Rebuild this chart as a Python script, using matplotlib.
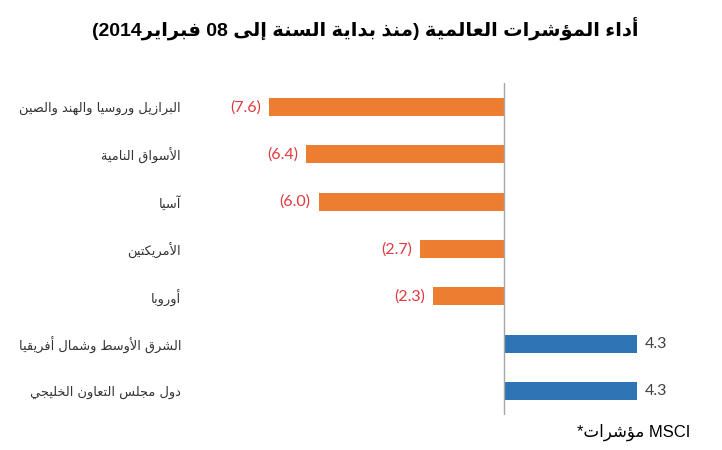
import re
import matplotlib
matplotlib.use("Agg")
import matplotlib.pyplot as plt
import matplotlib.transforms as mtransforms

# 데이터
categories = [
    "البرازيل وروسيا والهند والصين",
    "الأسواق النامية",
    "آسيا",
    "الأمريكتين",
    "أوروبا",
    "الشرق الأوسط وشمال أفريقيا",
    "دول مجلس التعاون الخليجي",
]
values = [-7.6, -6.4, -6.0, -2.7, -2.3, 4.3, 4.3]

title = "أداء المؤشرات العالمية (منذ بداية السنة إلى 08 فبراير2014)"
footnote = "MSCI مؤشرات*"

# 아랍어 글자 모양 (isolated 코드, 형태 수)
FORMS = {
    "\u0621": (0xFE80, 1), "\u0622": (0xFE81, 2), "\u0623": (0xFE83, 2),
    "\u0624": (0xFE85, 2), "\u0625": (0xFE87, 2), "\u0626": (0xFE89, 4),
    "\u0627": (0xFE8D, 2), "\u0628": (0xFE8F, 4), "\u0629": (0xFE93, 2),
    "\u062A": (0xFE95, 4), "\u062B": (0xFE99, 4), "\u062C": (0xFE9D, 4),
    "\u062D": (0xFEA1, 4), "\u062E": (0xFEA5, 4), "\u062F": (0xFEA9, 2),
    "\u0630": (0xFEAB, 2), "\u0631": (0xFEAD, 2), "\u0632": (0xFEAF, 2),
    "\u0633": (0xFEB1, 4), "\u0634": (0xFEB5, 4), "\u0635": (0xFEB9, 4),
    "\u0636": (0xFEBD, 4), "\u0637": (0xFEC1, 4), "\u0638": (0xFEC5, 4),
    "\u0639": (0xFEC9, 4), "\u063A": (0xFECD, 4), "\u0641": (0xFED1, 4),
    "\u0642": (0xFED5, 4), "\u0643": (0xFED9, 4), "\u0644": (0xFEDD, 4),
    "\u0645": (0xFEE1, 4), "\u0646": (0xFEE5, 4), "\u0647": (0xFEE9, 4),
    "\u0648": (0xFEED, 2), "\u0649": (0xFEEF, 2), "\u064A": (0xFEF1, 4),
}
LAM_ALEF = {"\u0622": 0xFEF5, "\u0623": 0xFEF7, "\u0625": 0xFEF9, "\u0627": 0xFEFB}
MIRROR = {"(": ")", ")": "("}


def shape(text):
    units = []
    i = 0
    while i < len(text):
        c = text[i]
        if c == "\u0644" and i + 1 < len(text) and text[i + 1] in LAM_ALEF:
            units.append((LAM_ALEF[text[i + 1]], 2, None))
            i += 2
            continue
        if c in FORMS:
            units.append((FORMS[c][0], FORMS[c][1], None))
        else:
            units.append((None, 0, c))
        i += 1

    out = []
    for k, (code, n, raw) in enumerate(units):
        if code is None:
            out.append(raw)
            continue
        jp = n >= 2 and k > 0 and units[k - 1][1] == 4
        jn = n == 4 and k + 1 < len(units) and units[k + 1][1] >= 2
        if n == 1:
            off = 0
        elif jp and jn:
            off = 3
        elif jn:
            off = 2
        elif jp:
            off = 1
        else:
            off = 0
        out.append(chr(code + off))
    return "".join(out)


def visual(text):
    # 간단한 RTL 순서 뒤집기 (숫자/라틴은 그대로)
    s = shape(text)
    tokens = re.findall(r"[A-Za-z0-9][A-Za-z0-9.,]*[A-Za-z0-9]|[A-Za-z0-9]|.", s)
    tokens = [MIRROR.get(t, t) for t in tokens]
    return "".join(reversed(tokens))


ORANGE = "#ED7D31"
BLUE = "#2E75B6"
RED = "#E2383F"

fig = plt.figure(figsize=(7.22, 4.5), dpi=100)
ax = fig.add_axes([195 / 722, 0.0785, 525 / 722, 0.736])

y = list(range(len(values)))
colors = [ORANGE if v < 0 else BLUE for v in values]
ax.barh(y, values, height=0.38, color=colors)
ax.axvline(0, color="#A6A6A6", lw=1)

ax.set_xlim(-10, 7)
ax.set_ylim(len(values) - 0.5, -0.5)
ax.set_xticks([])
ax.set_yticks(y)
ax.set_yticklabels([visual(c) for c in categories], fontsize=9.4,
                   family=["DejaVu Sans"], color="#333333")
ax.tick_params(axis="y", length=0, pad=10)
for sp in ax.spines.values():
    sp.set_visible(False)

for yi, v in zip(y, values):
    if v < 0:
        off = mtransforms.offset_copy(ax.transData, fig=fig, x=-8, y=0, units="dots")
        ax.text(v, yi, f"({abs(v):.1f})", transform=off, ha="right", va="center",
                fontsize=11.5, color=RED, family=["Lato", "DejaVu Sans"])
    else:
        off = mtransforms.offset_copy(ax.transData, fig=fig, x=8, y=0, units="dots")
        ax.text(v, yi, f"{v:.1f}", transform=off, ha="left", va="center",
                fontsize=11.5, color="#404040", family=["Lato", "DejaVu Sans"])

fig.text(0.5055, 0.938, visual(title), ha="center", va="center", fontsize=14,
         fontweight="bold", family=["Liberation Sans", "DejaVu Sans"])
fig.text(690 / 722, 1 - 432 / 450, visual(footnote), ha="right", va="center",
         fontsize=12, family=["Liberation Sans", "DejaVu Sans"])

plt.savefig("out.png", dpi=100)
plt.close()
